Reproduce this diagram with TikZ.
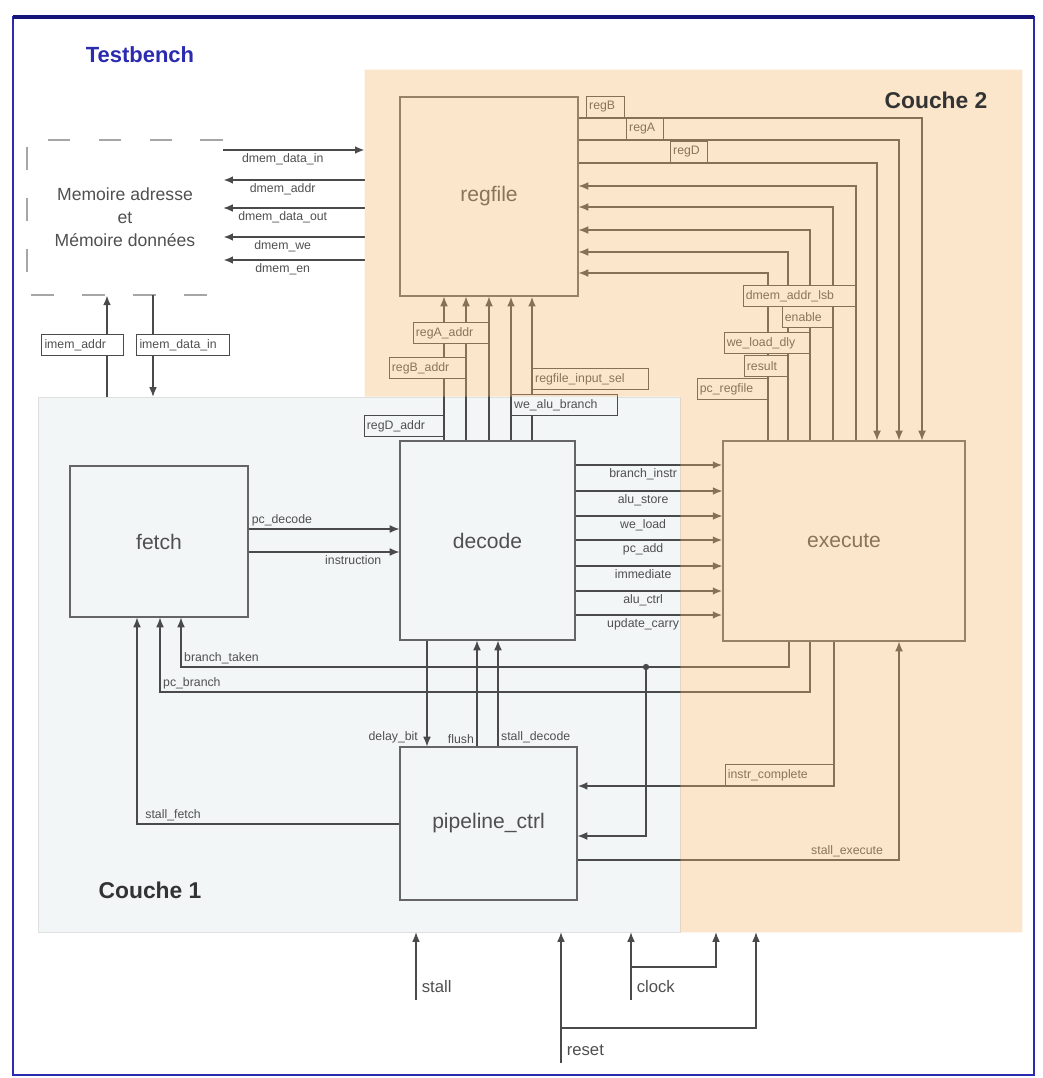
\documentclass[tikz,border=0pt]{standalone}
\usepackage{fontspec}
\setmainfont{Liberation Sans}
\usepackage{tikz}
\usetikzlibrary{positioning}
\usetikzlibrary{arrows.meta}

\definecolor{tbblue}{HTML}{2B2BB0}
\definecolor{tbnavy}{HTML}{16167A}
\definecolor{layergray}{HTML}{F2F6F7}
\definecolor{layertint}{HTML}{F6B86D}
\definecolor{wiregray}{HTML}{4A4A4A}
\definecolor{textgray}{HTML}{505050}

\begin{document}
\begin{tikzpicture}[
    x=0.02cm, y=-0.02cm,
    >={Latex[length=5.5pt,width=4.4pt]},
    block/.style={draw=wiregray!85, line width=0.7pt, text=textgray, font=\fontsize{12}{14}\selectfont},
    couche/.style={draw=none, inner sep=0pt},
    wire/.style={draw=wiregray, line width=0.6pt},
    bus/.style={draw=wiregray, line width=1.1pt},
    sl/.style={font=\fontsize{7}{8}\selectfont, text=textgray, inner sep=1.5pt},
    il/.style={font=\fontsize{9.5}{11}\selectfont, text=textgray, inner sep=3pt},
    lbox/.style={draw=wiregray, fill=white, line width=0.6pt, font=\fontsize{7}{8}\selectfont, text=textgray, inner xsep=1.5pt, inner ysep=0pt, minimum height=0.42cm, align=left},
    memline/.style={draw=gray!70, line width=1.1pt, dash pattern=on 13pt off 16pt},
    title/.style={font=\fontsize{13}{15}\selectfont\bfseries, text=black!80}
]
    \useasboundingbox (0,0) rectangle (1042,1078);
    \fill[white] (0,0) rectangle (1042,1078);

    % Layers (Couche 2 is tinted at the end)
    \node[couche, minimum width=13.14cm, minimum height=17.24cm] (couche2) at (693.5,501) {};
    \node[couche, fill=layergray, draw=gray!25, minimum width=12.84cm, minimum height=10.7cm] (couche1) at (359,664.5) {};

    % Testbench frame
    \draw[tbblue, line width=1.1pt] (13,17) rectangle (1034,1075);
    \draw[tbnavy, line width=2.4pt] (13,17) -- (1034,17);

    % Blocks
    \node[block, minimum width=3.56cm, minimum height=3.98cm] (regfile) at (489,196.5) {regfile};
    \node[block, minimum width=3.56cm, minimum height=3.02cm] (fetch) at (159,541.5) {fetch};
    \node[block, minimum width=3.5cm, minimum height=3.98cm] (decode) at (487.5,540.5) {decode};
    \node[block, minimum width=4.84cm, minimum height=4cm] (execute) at (844,541) {execute};
    \node[block, minimum width=3.54cm, minimum height=3.06cm] (pipe) at (488.5,823.5) {pipeline\_ctrl};

    % Memory of the testbench
    \node[inner sep=0pt, minimum width=3.92cm, minimum height=3.1cm, align=center, text=textgray, font=\fontsize{10}{13}\selectfont] (mem) at (125,217.5) {Memoire adresse\\et\\Mémoire données};
    \draw[memline] (mem.north east) -- (mem.north west) -- (mem.south west) -- (mem.south east);

    % Data memory port
    \draw[bus,->] (mem.east |- 0,150) -- node[sl, below, pos=.42] {dmem\_data\_in} (couche2.west |- 0,150);
    \draw[bus,->] (couche2.west |- 0,180) -- node[sl, below, pos=.58] {dmem\_addr} (mem.east |- 0,180);
    \draw[wire,->] (couche2.west |- 0,208) -- node[sl, below, pos=.58] {dmem\_data\_out} (mem.east |- 0,208);
    \draw[bus,->] (couche2.west |- 0,237) -- node[sl, below, pos=.58] {dmem\_we} (mem.east |- 0,237);
    \draw[bus,->] (couche2.west |- 0,260) -- node[sl, below, pos=.58] {dmem\_en} (mem.east |- 0,260);

    % Instruction memory port
    \draw[bus,->] (couche1.north -| 107,0) -- (mem.south -| 107,0);
    \draw[wire,->] (mem.south -| 153,0) -- (couche1.north -| 153,0);

    % regfile -> execute
    \draw[wire,->] (regfile.east |- 0,118) -| (execute.north -| 922,0);
    \draw[wire,->] (regfile.east |- 0,140) -| (execute.north -| 899,0);
    \draw[wire,->] (regfile.east |- 0,163) -| (execute.north -| 877,0);

    % execute -> regfile
    \draw[wire,->] (execute.north -| 856,0) |- (regfile.east |- 0,186);
    \draw[wire,->] (execute.north -| 833,0) |- (regfile.east |- 0,207);
    \draw[wire,->] (execute.north -| 810,0) |- (regfile.east |- 0,230);
    \draw[wire,->] (execute.north -| 788,0) |- (regfile.east |- 0,252);
    \draw[wire,->] (execute.north -| 768,0) |- (regfile.east |- 0,273);

    % decode -> regfile
    \draw[wire,->] (decode.north -| 444,0) -- (regfile.south -| 444,0);
    \draw[wire,->] (decode.north -| 466,0) -- (regfile.south -| 466,0);
    \draw[wire,->] (decode.north -| 489,0) -- (regfile.south -| 489,0);
    \draw[bus,->] (decode.north -| 511,0) -- (regfile.south -| 511,0);
    \draw[bus,->] (decode.north -| 532,0) -- (regfile.south -| 532,0);

    % fetch -> decode
    \draw[wire,->] (fetch.east |- 0,529) -- node[sl, pos=0, anchor=south west] {pc\_decode} (decode.west |- 0,529);
    \draw[wire,->] (fetch.east |- 0,552) -- node[sl, pos=1, anchor=north east, xshift=-0.3cm] {instruction} (decode.west |- 0,552);

    % decode -> execute
    \draw[bus,->] (decode.east |- 0,465) -- node[sl, below, pos=.46] {branch\_instr} (execute.west |- 0,465);
    \draw[wire,->] (decode.east |- 0,491) -- node[sl, below, pos=.46] {alu\_store} (execute.west |- 0,491);
    \draw[wire,->] (decode.east |- 0,516) -- node[sl, below, pos=.46] {we\_load} (execute.west |- 0,516);
    \draw[bus,->] (decode.east |- 0,540) -- node[sl, below, pos=.46] {pc\_add} (execute.west |- 0,540);
    \draw[wire,->] (decode.east |- 0,566) -- node[sl, below, pos=.46] {immediate} (execute.west |- 0,566);
    \draw[bus,->] (decode.east |- 0,591) -- node[sl, below, pos=.46] {alu\_ctrl} (execute.west |- 0,591);
    \draw[bus,->] (decode.east |- 0,615) -- node[sl, below, pos=.46] {update\_carry} (execute.west |- 0,615);

    % execute -> fetch
    \coordinate (tap) at (646,667);
    \draw[wire,->] (execute.south -| 789,0) |- (181,667) -- node[sl, pos=0, anchor=south west] {branch\_taken} (fetch.south -| 181,0);
    \draw[wire,->] (execute.south -| 810,0) |- (160,692) -- node[sl, pos=0, anchor=south west] {pc\_branch} (fetch.south -| 160,0);
    \fill[wiregray] (tap) circle (1.8pt);

    % pipeline control
    \draw[wire,->] (tap) |- (pipe.east |- 0,836);
    \draw[bus,->] (execute.south -| 834,0) |- (pipe.east |- 0,786);
    \draw[wire,->] (pipe.east |- 0,860) -| node[sl, pos=.48, anchor=south east] {stall\_execute} (execute.south -| 899,0);
    \draw[wire,->] (pipe.west |- 0,824) -| node[sl, pos=.49, anchor=south west] {stall\_fetch} (fetch.south -| 137,0);
    \draw[wire,->] (decode.south -| 427,0) -- node[sl, pos=1, anchor=south east, xshift=-0.12cm] {delay\_bit} (pipe.north -| 427,0);
    \draw[wire,->] (pipe.north -| 477,0) -- node[sl, pos=0, anchor=south east] {flush} (decode.south -| 477,0);
    \draw[wire,->] (pipe.north -| 498,0) -- node[sl, pos=0, anchor=south west] {stall\_decode} (decode.south -| 498,0);

    % Testbench inputs
    \coordinate (stallin) at (416,1000);
    \coordinate (clkin) at (631,1000);
    \coordinate (rstin) at (561,1063);
    \draw[wire,->] (stallin) -- node[il, pos=.2, right] {stall} (couche1.south -| stallin);
    \draw[wire,->] (clkin) -- node[il, pos=.2, right] {clock} (couche1.south -| clkin);
    \draw[wire,->] (clkin |- 0,967) -| (couche2.south -| 716,0);
    \draw[wire,->] (rstin) -- node[il, pos=.1, right] {reset} (couche1.south -| rstin);
    \draw[wire,->] (rstin |- 0,1028) -| (couche2.south -| 756,0);

    % Signal name boxes
    \node[lbox, text width=1.52cm] (limaddr) at (82.5,345) {imem\_addr};
    \node[lbox, text width=1.74cm] (limdata) at (183,345) {imem\_data\_in};
    \node[lbox, text width=0.66cm, anchor=south west] (lregB) at (586,118) {regB};
    \node[lbox, text width=0.64cm, anchor=south west] (lregA) at (626,140) {regA};
    \node[lbox, text width=0.64cm, anchor=south west] (lregD) at (670,163) {regD};
    \node[lbox, text width=2.14cm, anchor=north east] (ldmemlsb) at (856,285) {dmem\_addr\_lsb};
    \node[lbox, text width=0.9cm, anchor=north east] (lenable) at (833,306) {enable};
    \node[lbox, text width=1.6cm, anchor=north east] (lweload) at (810,332) {we\_load\_dly};
    \node[lbox, text width=0.76cm, anchor=north east] (lresult) at (788,355) {result};
    \node[lbox, text width=1.3cm, anchor=north east] (lpcreg) at (768,378) {pc\_regfile};
    \node[lbox, text width=1.4cm, anchor=north east] (lregAaddr) at (489,322) {regA\_addr};
    \node[lbox, text width=1.42cm, anchor=north east] (lregBaddr) at (466,357) {regB\_addr};
    \node[lbox, text width=1.48cm, anchor=north east, fill=layergray] (lregDaddr) at (444,415) {regD\_addr};
    \node[lbox, text width=2.22cm, anchor=north west] (lrfsel) at (532,368) {regfile\_input\_sel};
    \node[lbox, text width=2.02cm, anchor=north west, fill=layergray] (lalubr) at (511,394) {we\_alu\_branch};
    \node[lbox, text width=2.06cm, anchor=south east] (linstr) at (834,786) {instr\_complete};

    % Couche 2 tint
    \fill[layertint, opacity=.35] (couche2.north west) -- (couche2.north east) -- (couche2.south east) -- (couche1.south east) -- (couche1.north east) -- (couche2.west |- couche1.north) -- cycle;

    % Titles
    \node[font=\fontsize{12.5}{14}\selectfont\bfseries, text=tbblue] (tbtitle) at (140,55) {Testbench};
    \node[title] (c2title) at (936,100) {Couche 2};
    \node[title] (c1title) at (150,890) {Couche 1};
\end{tikzpicture}
\end{document}
